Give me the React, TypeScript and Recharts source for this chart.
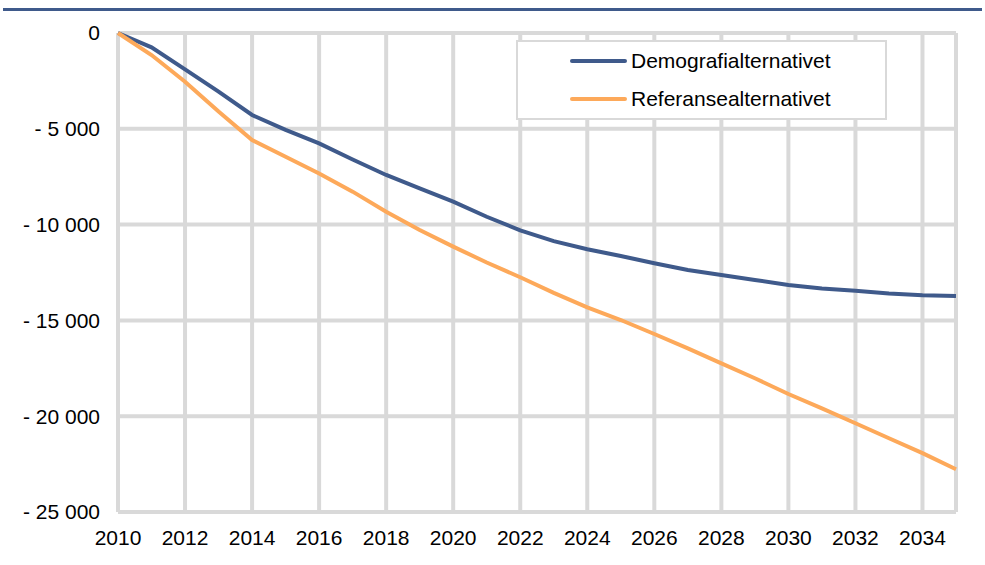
import { LineChart, Line, XAxis, YAxis, CartesianGrid, Legend, ReferenceLine } from 'recharts';

const years = [
	2010, 2011, 2012, 2013, 2014, 2015, 2016, 2017, 2018, 2019, 2020, 2021, 2022,
	2023, 2024, 2025, 2026, 2027, 2028, 2029, 2030, 2031, 2032, 2033, 2034, 2035,
];

const demografi = [
	0, -750, -1900, -3060, -4280, -5060, -5760, -6600, -7410, -8110, -8800, -9590, -10300,
	-10860, -11290, -11640, -12020, -12370, -12630, -12890, -13150, -13330, -13450, -13590, -13690, -13730,
];

const referanse = [
	0, -1150, -2540, -4100, -5590, -6460, -7330, -8280, -9330, -10280, -11150, -11980, -12750,
	-13560, -14320, -14980, -15710, -16460, -17240, -18020, -18840, -19590, -20370, -21150, -21930, -22770,
];

const xTicks = [2010, 2012, 2014, 2016, 2018, 2020, 2022, 2024, 2026, 2028, 2030, 2032, 2034];
const yTicks = [-25000, -20000, -15000, -10000, -5000, 0];

const seriesNames = ['Demografialternativet', 'Referansealternativet'];
const BLUE = '#3F5A8B';
const ORANGE = '#FDA95A';
const GRID = '#D9D9D9';
const FONT = '"Liberation Sans", Arial, sans-serif';

const data = years.map((year, i) => ({
	year,
	demografi: demografi[i],
	referanse: referanse[i],
}));

const formatY = (value: number): string => {
	if (value === 0) return '0';
	const abs = Math.abs(value)
		.toString()
		.replace(/\B(?=(\d{3})+(?!\d))/g, ' ');
	return value < 0 ? `- ${abs}` : abs;
};

const renderLegend = () => (
	<div
		style={{
			width: 367,
			height: 76,
			border: `2px solid ${GRID}`,
			background: '#fff',
			fontFamily: FONT,
			fontSize: 21,
			color: '#000',
			position: 'relative',
		}}
	>
		{[BLUE, ORANGE].map((color, i) => (
			<div
				key={seriesNames[i]}
				style={{
					position: 'absolute',
					left: 52,
					top: 5 + i * 38,
					height: 28,
					display: 'flex',
					alignItems: 'center',
				}}
			>
				<div style={{ width: 57, height: 4, background: color, borderRadius: 2, marginRight: 4 }} />
				<span>{seriesNames[i]}</span>
			</div>
		))}
	</div>
);

export default function App() {
	return (
		<div style={{ position: 'absolute', left: 0, top: 0, width: 985, height: 565, background: '#fff' }}>
			<div style={{ position: 'absolute', left: 3, top: 8, width: 979, height: 3, background: BLUE }} />
			<LineChart
				width={985}
				height={565}
				data={data}
				margin={{ top: 33, right: 29, left: 0, bottom: 0 }}
			>
				<CartesianGrid stroke={GRID} strokeWidth={4} />
				<XAxis
					dataKey="year"
					type="number"
					domain={[2010, 2035]}
					ticks={xTicks}
					height={53}
					axisLine={false}
					tickLine={false}
					tickSize={0}
					tickMargin={18}
					tick={{ fontSize: 21, fill: '#000', fontFamily: FONT }}
				/>
				<YAxis
					domain={[-25000, 0]}
					ticks={yTicks}
					width={118}
					axisLine={false}
					tickLine={false}
					tickSize={0}
					tickMargin={18}
					tickFormatter={formatY}
					tick={{ fontSize: 21, fill: '#000', fontFamily: FONT }}
				/>
				<ReferenceLine x={2035} stroke={GRID} strokeWidth={4} />
				<Legend
					layout="vertical"
					align="center"
					verticalAlign="middle"
					content={renderLegend}
					wrapperStyle={{ position: 'absolute', left: 516, top: 40, width: 371, height: 80 }}
				/>
				<Line
					type="linear"
					dataKey="demografi"
					name={seriesNames[0]}
					stroke={BLUE}
					strokeWidth={4}
					dot={false}
					isAnimationActive={false}
				/>
				<Line
					type="linear"
					dataKey="referanse"
					name={seriesNames[1]}
					stroke={ORANGE}
					strokeWidth={4}
					dot={false}
					isAnimationActive={false}
				/>
			</LineChart>
		</div>
	);
}
